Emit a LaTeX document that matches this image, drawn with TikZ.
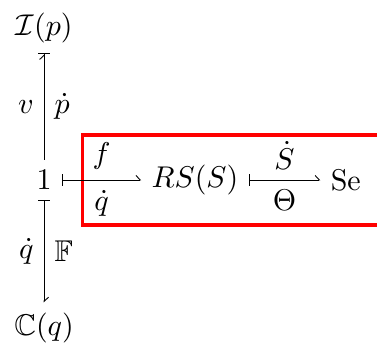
\documentclass[tikz,border=0pt]{standalone}
\usepackage{amsmath}
\usepackage{amssymb}
\usetikzlibrary{arrows.meta, positioning, calc}

\begin{document}
\begin{tikzpicture}[
    on grid,
    every path/.style={line width=0.3pt},
    mapsto/.style={arrows={Bar[width=4pt]-Straight Barb[left,length=1.4pt,width=3pt]}},
    barhead/.style={arrows={-Straight Barb[left,length=1.4pt,width=3pt,sep=0pt] Bar[width=4pt]}},
    hilite/.style={draw=red, line width=1.2pt}
]
    \useasboundingbox (0,0) rectangle (125.7pt,-116.3pt);

    \node (one) at (14.7pt,-60pt) {$1$};
    \node[above=50.7pt of one] (ip) {$\mathcal{I}(p)$};
    \node[below=49.3pt of one] (cq) {$\mathbb{C}(q)$};
    \node[right=50.3pt of one] (rs) {$RS(S)$};
    \node[right=50.3pt of rs] (se) {Se};

    \draw[hilite] ($(one.east)+(6.8pt,15pt)$) rectangle ($(se.east)+(5pt,-15pt)$);

    \draw[barhead] (one) -- node[left] (lv) {$v$} node[right] (lpd) {$\dot{p}$} (ip);
    \draw[mapsto] (one) -- node[left] (lqd) {$\dot{q}$} node[right] (lff) {$\mathbb{F}$} (cq);
    \draw[mapsto] (one) -- node[above] (lf) {$f$} node[below] (lqh) {$\dot{q}$} (rs);
    \draw[mapsto] (rs) -- node[above] (lsd) {$\dot{S}$} node[below] (lth) {$\Theta$} (se);

\end{tikzpicture}
\end{document}
